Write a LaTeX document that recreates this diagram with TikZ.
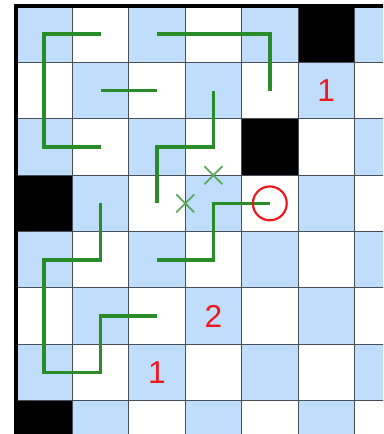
\documentclass[tikz,border=0pt]{standalone}
\usepackage{fontspec}
\setmainfont{Liberation Sans}
\usetikzlibrary{positioning}
\definecolor{cellblue}{RGB}{192,222,252}
\definecolor{routegreen}{RGB}{40,140,40}
\definecolor{crossgreen}{RGB}{95,168,95}
\definecolor{gridgray}{RGB}{70,78,88}
\definecolor{cluered}{RGB}{238,24,30}

\begin{document}
\begin{tikzpicture}[
    route/.style={routegreen, line width=1.9pt, line join=miter},
    crossmark/.style={crossgreen, line width=0.9pt},
    clue/.style={text=cluered, font=\fontsize{16pt}{16pt}\selectfont},
    goal/.style={circle, draw=cluered, line width=1.1pt, minimum size=0.6cm, inner sep=0pt}
]
    % Khung hình (giữ đúng lề)
    \useasboundingbox (-0.284,0.106) rectangle (6.507,-7.589);
    \clip (-0.284,0.106) rectangle (6.507,-7.589);

    % Tô ô xanh kiểu bàn cờ, đặt tên tâm mỗi ô
    \foreach \r in {0,...,7} {
        \foreach \c in {0,...,6} {
            \pgfmathtruncatemacro{\odd}{mod(\r+\c,2)}
            \ifnum\odd=0
                \fill[cellblue] (\c,-\r) rectangle ++(1,-1);
            \fi
            \coordinate (c\r\c) at (\c+0.5,-\r-0.5);
        }
    }

    % Ô đen
    \fill[black] (5,0) rectangle ++(1,-1);
    \fill[black] (4,-2) rectangle ++(1,-1);
    \fill[black] (0,-3) rectangle ++(1,-1);
    \fill[black] (0,-7) rectangle ++(1,-1);

    % Lưới và viền
    \draw[gridgray, line width=0.5pt] (0,-8) grid (7,0);
    \draw[line width=1.6pt] (0,-8) -- (0,0) -- (7,0);

    % Các đường màu xanh lá
    \draw[route] (c01) -- (c00) -- (c20) -- (c21);
    \draw[route] (c11) -- (c12);
    \draw[route] (c02) -- (c04) -- (c14);
    \draw[route] (c13) -- (c23) -- (c22) -- (c32);
    \draw[route] (c34) -- (c33) -- (c43) -- (c42);
    \draw[route] (c31) -- (c41) -- (c40) -- (c60) -- (c61) -- (c51) -- (c52);

    % Dấu x trên cạnh ô
    \coordinate (x1) at (3.5,-3);
    \coordinate (x2) at (3,-3.5);
    \draw[crossmark] (x1) +(-0.16,-0.16) -- +(0.16,0.16) (x1) +(-0.16,0.16) -- +(0.16,-0.16);
    \draw[crossmark] (x2) +(-0.16,-0.16) -- +(0.16,0.16) (x2) +(-0.16,0.16) -- +(0.16,-0.16);

    % Vòng tròn đỏ
    \node[goal] (start) at (c34) {};

    % Các số đỏ
    \node[clue] (one) at (c15) {1};
    \node[clue] (two) at (c53) {2};
    \node[clue] (three) at (c62) {1};
\end{tikzpicture}
\end{document}
